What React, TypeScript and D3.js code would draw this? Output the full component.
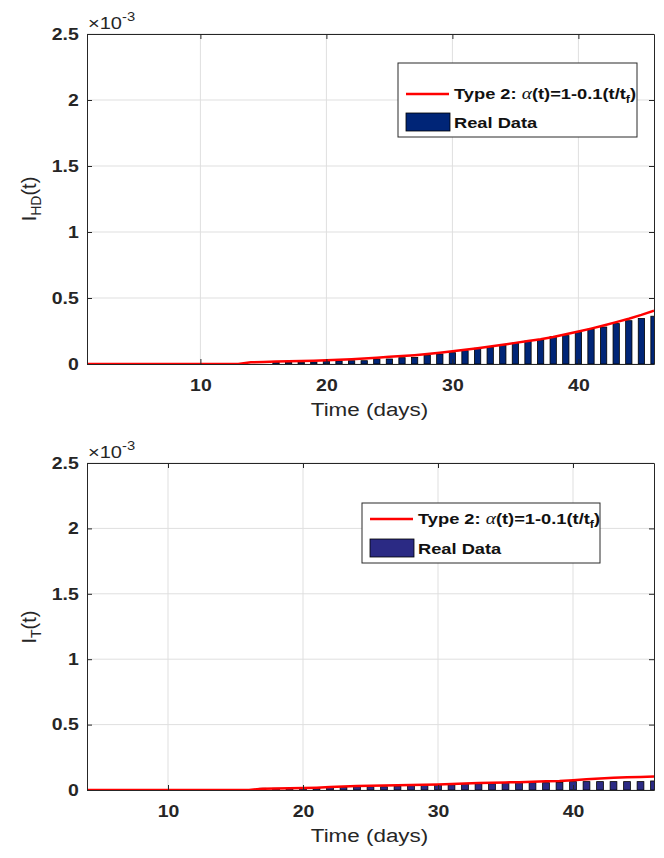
import React, {useRef, useEffect} from 'react';
import * as d3 from 'd3';

// values are in units of 1e-3 (the axes carry the x10^-3 exponent)
const xTicks = [10, 20, 30, 40];
const yTicks = [0, 0.5, 1, 1.5, 2, 2.5];

// top panel: I_HD(t), days 1..46
const hdDays = [1, 2, 3, 4, 5, 6, 7, 8, 9, 10, 11, 12, 13, 14, 15, 16, 17, 18, 19, 20, 21, 22, 23,
    24, 25, 26, 27, 28, 29, 30, 31, 32, 33, 34, 35, 36, 37, 38, 39, 40, 41, 42, 43, 44, 45, 46];
const hdReal = [0, 0, 0, 0, 0, 0, 0, 0, 0, 0, 0, 0, 0, 0, 0, 0.013, 0.013, 0.013, 0.015, 0.023, 0.023,
    0.025, 0.025, 0.038, 0.038, 0.048, 0.05, 0.066, 0.076, 0.086, 0.101, 0.119, 0.126, 0.141, 0.159,
    0.174, 0.182, 0.207, 0.215, 0.24, 0.263, 0.28, 0.306, 0.328, 0.345, 0.362];
const hdModel = [0, 0, 0, 0, 0, 0, 0, 0, 0, 0, 0, 0, 0, 0.013, 0.015, 0.018, 0.02, 0.022, 0.025, 0.028,
    0.032, 0.036, 0.042, 0.048, 0.054, 0.06, 0.067, 0.075, 0.085, 0.097, 0.108, 0.12, 0.133, 0.146,
    0.16, 0.174, 0.188, 0.205, 0.225, 0.246, 0.268, 0.292, 0.317, 0.343, 0.372, 0.404];

// bottom panel: I_T(t), days 4..46
const tDays = [4, 5, 6, 7, 8, 9, 10, 11, 12, 13, 14, 15, 16, 17, 18, 19, 20, 21, 22, 23, 24, 25, 26,
    27, 28, 29, 30, 31, 32, 33, 34, 35, 36, 37, 38, 39, 40, 41, 42, 43, 44, 45, 46];
const tReal = [0, 0, 0, 0, 0, 0, 0, 0, 0, 0, 0, 0, 0, 0.013, 0.013, 0.013, 0.013, 0.018, 0.02, 0.02,
    0.025, 0.025, 0.025, 0.03, 0.033, 0.038, 0.04, 0.04, 0.048, 0.048, 0.048, 0.056, 0.056, 0.056,
    0.056, 0.058, 0.064, 0.064, 0.064, 0.064, 0.064, 0.064, 0.069];
const tModel = [0, 0, 0, 0, 0, 0, 0, 0, 0, 0, 0, 0, 0, 0.01, 0.012, 0.013, 0.015, 0.018, 0.022, 0.026,
    0.03, 0.032, 0.034, 0.036, 0.038, 0.04, 0.043, 0.046, 0.05, 0.053, 0.056, 0.058, 0.06, 0.063,
    0.066, 0.069, 0.075, 0.082, 0.088, 0.093, 0.097, 0.1, 0.104];

const FONT = "'Liberation Sans', Arial, sans-serif";
const AXIS = '#262626';
const SX = 1.18; // the picture's lettering is a bit wider than it is tall

const panels = [
    {
        id: 'hd', top: 34, bottom: 364, domain: [1, 46], days: hdDays, real: hdReal, model: hdModel,
        barColor: '#002577', sub: 'HD', labelY: 199,
        legend: {x: 398, y: 63, w: 239, h: 74, row1: 94, row2: 122}
    },
    {
        id: 't', top: 463, bottom: 790, domain: [4, 46], days: tDays, real: tReal, model: tModel,
        barColor: '#2b2a84', sub: 'T', labelY: 627,
        legend: {x: 362, y: 503, w: 238, h: 60, row1: 519, row2: 548}
    }
];

// text placed at (x, y) and widened horizontally
function wideText(parent, x, y) {
    return parent.append('g')
        .attr('transform', `translate(${x},${y}) scale(${SX},1)`)
        .append('text');
}

const App = () => {
    const svgRef = useRef(null);

    useEffect(() => {
        const svg = d3.select(svgRef.current);
        svg.selectAll('*').remove();

        const left = 87, right = 654;

        panels.forEach(p => {
            const x = d3.scaleLinear().domain(p.domain).range([left, right]);
            const y = d3.scaleLinear().domain([0, 2.5]).range([p.bottom, p.top]);
            const g = svg.append('g');

            // clip for bars / line at the box
            g.append('clipPath').attr('id', 'clip-' + p.id)
                .append('rect')
                .attr('x', left).attr('y', p.top)
                .attr('width', right - left).attr('height', p.bottom - p.top);

            // grid
            g.append('g').selectAll('line').data(xTicks).join('line')
                .attr('x1', d => x(d)).attr('x2', d => x(d))
                .attr('y1', p.top).attr('y2', p.bottom)
                .attr('stroke', '#dfdfdf').attr('stroke-width', 1);
            g.append('g').selectAll('line').data(yTicks).join('line')
                .attr('x1', left).attr('x2', right)
                .attr('y1', d => y(d)).attr('y2', d => y(d))
                .attr('stroke', '#dfdfdf').attr('stroke-width', 1);

            const step = x(p.days[1]) - x(p.days[0]);
            const bw = step * 0.5;

            // bars
            g.append('g').attr('clip-path', 'url(#clip-' + p.id + ')')
                .selectAll('rect').data(p.days.map((d, i) => ({d, v: p.real[i]})).filter(e => e.v > 0))
                .join('rect')
                .attr('x', e => x(e.d) - bw / 2)
                .attr('y', e => y(e.v))
                .attr('width', bw)
                .attr('height', e => y(0) - y(e.v))
                .attr('fill', p.barColor)
                .attr('stroke', '#000')
                .attr('stroke-width', 0.8);

            // model curve
            const line = d3.line().x((d, i) => x(p.days[i])).y(d => y(d));
            g.append('path')
                .attr('clip-path', 'url(#clip-' + p.id + ')')
                .attr('d', line(p.model))
                .attr('fill', 'none')
                .attr('stroke', '#ff0000')
                .attr('stroke-width', 2.5);

            // axes, ticks inward, box on
            const ax = g.append('g').attr('transform', `translate(0,${p.bottom})`)
                .call(d3.axisBottom(x).tickValues(xTicks).tickSize(-5).tickSizeOuter(0).tickPadding(15)
                    .tickFormat(d => String(d)));
            const ay = g.append('g').attr('transform', `translate(${left},0)`)
                .call(d3.axisLeft(y).tickValues(yTicks).tickSize(-5).tickSizeOuter(0).tickPadding(7)
                    .tickFormat(d => String(d)));
            const at = g.append('g').attr('transform', `translate(0,${p.top})`)
                .call(d3.axisTop(x).tickValues(xTicks).tickSize(-5).tickSizeOuter(0).tickFormat(() => ''));
            const ar = g.append('g').attr('transform', `translate(${right},0)`)
                .call(d3.axisRight(y).tickValues(yTicks).tickSize(-5).tickSizeOuter(0).tickFormat(() => ''));

            [ax, ay, at, ar].forEach(a => {
                a.select('.domain').attr('stroke', AXIS).attr('stroke-width', 1);
                a.selectAll('.tick line').attr('stroke', AXIS);
                a.selectAll('.tick text')
                    .attr('fill', AXIS)
                    .attr('font-family', FONT)
                    .attr('font-size', 16.5)
                    .attr('font-weight', 'bold')
                    .attr('transform', `scale(${SX},1)`);
            });

            // x label
            wideText(g, (left + right) / 2 - 1, p.bottom + 52)
                .attr('text-anchor', 'middle')
                .attr('font-family', FONT)
                .attr('font-size', 19)
                .attr('fill', AXIS)
                .text('Time (days)');

            // y label
            const yl = g.append('text')
                .attr('transform', `translate(36,${p.labelY}) rotate(-90)`)
                .attr('text-anchor', 'middle')
                .attr('font-family', FONT)
                .attr('font-size', 20)
                .attr('fill', AXIS);
            yl.append('tspan').text('I');
            yl.append('tspan').attr('dy', 5).attr('font-size', 14).text(p.sub);
            yl.append('tspan').attr('dy', -5).text('(t)');

            // exponent
            const ex = wideText(g, 88, p.top - 5)
                .attr('font-family', FONT)
                .attr('font-size', 17)
                .attr('fill', AXIS);
            ex.append('tspan').text('\u00d710');
            ex.append('tspan').attr('dy', -8).attr('font-size', 12.5).text('-3');

            // legend
            const L = p.legend;
            const lg = g.append('g');
            lg.append('rect')
                .attr('x', L.x).attr('y', L.y).attr('width', L.w).attr('height', L.h)
                .attr('fill', '#fff').attr('stroke', '#2a2a2a').attr('stroke-width', 1);
            lg.append('line')
                .attr('x1', L.x + 8).attr('x2', L.x + 51)
                .attr('y1', L.row1).attr('y2', L.row1)
                .attr('stroke', '#ff0000').attr('stroke-width', 2.5);
            const lt = wideText(lg, L.x + 56, L.row1 + 5)
                .attr('font-family', FONT).attr('font-size', 15.5).attr('font-weight', 'bold')
                .attr('fill', '#111');
            lt.append('tspan').text('Type 2: ');
            lt.append('tspan').attr('font-family', "'Liberation Serif', serif")
                .attr('font-style', 'italic').attr('font-weight', 'normal').attr('font-size', 16.5).text('\u03b1');
            lt.append('tspan').text('(t)=1-0.1(t/t');
            lt.append('tspan').attr('dy', 4).attr('font-size', 10.5).text('f');
            lt.append('tspan').attr('dy', -4).text(')');
            lg.append('rect')
                .attr('x', L.x + 8).attr('y', L.row2 - 9).attr('width', 44).attr('height', 18)
                .attr('fill', p.barColor).attr('stroke', '#000').attr('stroke-width', 0.8);
            wideText(lg, L.x + 56, L.row2 + 6)
                .attr('font-family', FONT).attr('font-size', 15.5).attr('font-weight', 'bold')
                .attr('fill', '#111')
                .text('Real Data');
        });
    }, []);

    return <svg ref={svgRef} width={664} height={858}
                style={{position: 'absolute', left: 0, top: 0, background: '#fff'}}/>;
};

export default App;
